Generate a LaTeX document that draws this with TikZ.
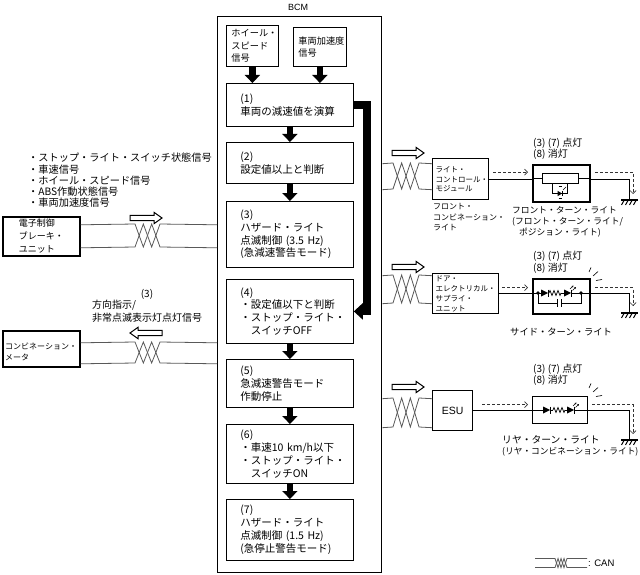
\documentclass[tikz,border=0pt]{standalone}
\usepackage{fontspec}
\setmainfont{Noto Sans CJK JP}
\newfontfamily\lat{Liberation Sans}
\usetikzlibrary{arrows.meta,calc}
\newcommand\fBox{\fontsize{10.5}{12.8}\selectfont}
\newcommand\fTop{\fontsize{9.2}{12.3}\selectfont}
\newcommand\fList{\fontsize{10.2}{11.3}\selectfont}
\newcommand\fEcu{\fontsize{9}{13}\selectfont}
\newcommand\fMeter{\fontsize{8}{11}\selectfont}
\newcommand\fMod{\fontsize{7.5}{9.8}\selectfont}
\newcommand\fLab{\fontsize{10}{11.5}\selectfont}
% twisted pair wire: start, twist start, dx, dy, end (wire changes side)
\newcommand\canwire[5]{\draw[wire] (#1) -- (#2) -- ++(#3,#4) -- ++(#3,{-(#4)}) -- ++(#3,#4) -- (#5);}
\newcommand\hollowR[2]{\draw[hollow] ({#1},{#2-2.7}) -- ++(24,0) -- ++(0,-3) -- ++(8,5.7) -- ++(-8,5.7) -- ++(0,-3) -- ++(-24,0) -- cycle;}
\newcommand\hollowL[2]{\draw[hollow] ({#1+32},{#2-2.7}) -- ++(-24,0) -- ++(0,-3) -- ++(-8,5.7) -- ++(8,5.7) -- ++(0,-3) -- ++(24,0) -- cycle;}
\newcommand\diode[2]{\fill ({#1},{#2-3.5}) -- ({#1+7},{#2}) -- ({#1},{#2+3.5}) -- cycle; \draw[line width=0.9pt] ({#1+7},{#2-3.5}) -- ({#1+7},{#2+3.5});}
\newcommand\resis[2]{\draw[line width=0.7pt] ({#1},{#2}) -- ++(1,-2.5) -- ++(2,5) -- ++(2,-5) -- ++(2,5) -- ++(2,-5) -- ++(2,5) -- ++(1,-2.5);}
\newcommand\led[2]{\diode{#1}{#2}\draw[line width=0.5pt,-{Stealth[length=2pt,width=2pt]}] ({#1+6},{#2-4}) -- ++(3.5,-3.5);\draw[line width=0.5pt,-{Stealth[length=2pt,width=2pt]}] ({#1+8.5},{#2-2.5}) -- ++(3.5,-3.5);}
\newcommand\gnd[1]{\draw[line width=1.3pt] ($(#1)+(-8,0)$) -- ($(#1)+(9,0)$);
  \foreach \k in {0,1,2,3} {\draw[line width=1pt] ($(#1)+({-5+4*\k},0.5)$) -- ($(#1)+({-7.5+4*\k},5)$);}}
\tikzset{
  bx/.style={draw, inner sep=0pt, anchor=north west},
  stepbox/.style={bx, line width=0.8pt, align=left, font=\fBox, inner xsep=14pt, text width=99pt, minimum width=127pt},
  lab/.style={anchor=west, align=left, inner sep=0pt},
  wire/.style={draw=black!65, line width=0.8pt},
  cable/.style={draw=black, line width=0.8pt},
  flow/.style={line width=6.5pt, -{Triangle[length=8pt,width=15pt]}},
  sig/.style={draw=black!80, line width=0.7pt, dash pattern=on 3pt off 2pt, -{Straight Barb[length=3pt,width=6pt]}},
  hollow/.style={draw, line width=1pt, fill=white},
  lamp/.style={bx, line width=1.8pt},
  module/.style={bx, line width=1.4pt, align=left, font=\fMod, inner xsep=3pt},
}
\begin{document}
\begin{tikzpicture}[x=1pt,y=-1pt]
\useasboundingbox (0,0) rectangle (640,575);
% BCM
\node[bx, line width=1.3pt, minimum width=164pt, minimum height=556pt] (bcm) at (217,16) {};
\node[font=\lat\fontsize{9}{10}\selectfont, inner sep=0pt] (bcmlbl) at (298,7.5) {BCM};
\node[bx, line width=0.8pt, minimum width=52pt, minimum height=41pt, align=left, font=\fTop, inner xsep=5pt, text width=42pt] (wheel) at (226,25) {ホイール・\\スピード\\信号};
\node[bx, line width=0.8pt, minimum width=53pt, minimum height=39pt, align=left, font=\fTop, inner xsep=5pt, text width=43pt] (accel) at (293,27) {車両加速度\\信号};
\node[stepbox, minimum height=43pt] (b1) at (226,83) {(1)\\車両の減速値を演算};
\node[stepbox, minimum height=41pt] (b2) at (226,142) {(2)\\設定値以上と判断};
\node[stepbox, minimum height=66pt] (b3) at (226,201) {(3)\\ハザード・ライト\\点滅制御 (3.5 Hz)\\(急減速警告モード)};
\node[stepbox, minimum height=64pt] (b4) at (226,279) {(4)\\・設定値以下と判断\\・ストップ・ライト・\\\hphantom{・}スイッチOFF};
\node[stepbox, minimum height=48pt] (b5) at (226,359) {(5)\\急減速警告モード\\作動停止};
\node[stepbox, minimum height=59pt] (b6) at (226,424) {(6)\\・車速10 km/h以下\\・ストップ・ライト・\\\hphantom{・}スイッチON};
\node[stepbox, minimum height=61pt] (b7) at (226,499) {(7)\\ハザード・ライト\\点滅制御 (1.5 Hz)\\(急停止警告モード)};
\draw[flow] (wheel.south) -- (wheel.south |- b1.north);
\draw[flow] (accel.south) -- (accel.south |- b1.north);
\draw[flow] (b1.south) -- (b2.north);
\draw[flow] (b2.south) -- (b3.north);
\draw[flow] (b4.south) -- (b5.north);
\draw[flow] (b5.south) -- (b6.north);
\draw[flow] (b6.south) -- (b7.north);
\draw[line width=8pt, line join=miter, -{Triangle[length=9pt,width=16pt]}] (b1.east) -- ++(13,0) |- (b4.east);
% left side
\node[bx, line width=1.6pt, minimum width=77pt, minimum height=39pt, align=left, font=\fEcu] (ecu) at (2,216) {電子制御\\ブレーキ・\\ユニット};
\node[bx, line width=1.6pt, minimum width=77pt, minimum height=36pt] (meter) at (2,330) {};
\node[lab, font=\fMeter] (metertxt) at (5,351.5) {コンビネーション・\\メータ};
\node[lab, font=\fList] (siglist) at (28,180.5) {・ストップ・ライト・スイッチ状態信号\\・車速信号\\・ホイール・スピード信号\\・ABS作動状態信号\\・車両加速度信号};
\node[font=\fLab, inner sep=0pt] (n3) at (147,294) {(3)};
\node[lab, font=\fontsize{10}{13}\selectfont] (turnsig) at (92,311.5) {方向指示/\\非常点滅表示灯点灯信号};
\coordinate (e1) at ($(ecu.east)+(0,-11.5)$);
\coordinate (e2) at ($(ecu.east)+(0,11.5)$);
\canwire{e1}{135,224}{8.333}{23}{e2 -| bcm.west}
\canwire{e2}{135,247}{8.333}{-23}{e1 -| bcm.west}
\coordinate (m1) at ($(meter.east)+(0,-6)$);
\coordinate (m2) at ($(meter.east)+(0,15)$);
\canwire{m1}{135,342}{8.333}{21}{m2 -| bcm.west}
\canwire{m2}{135,363}{8.333}{-21}{m1 -| bcm.west}
\hollowR{130}{218}
\hollowL{130}{333}
% right side modules
\node[module, minimum width=56pt, minimum height=41pt, text width=50pt] (lcm) at (432,158) {ライト・\\コントロール・\\モジュール};
\node[module, minimum width=66pt, minimum height=40pt, text width=60pt] (desu) at (432,273) {ドア・\\エレクトリカル・\\サプライ・\\ユニット};
\node[bx, line width=1.4pt, minimum width=40pt, minimum height=40pt, font=\lat\fontsize{10.5}{12}\selectfont] (esu) at (432,390) {ESU};
\coordinate (r1) at ($(lcm.west)+(0,-15.5)$);
\coordinate (r2) at ($(lcm.west)+(0,10.5)$);
\canwire{r1 -| bcm.east}{393,163}{8.667}{26}{r2}
\canwire{r2 -| bcm.east}{393,189}{8.667}{-26}{r1}
\coordinate (s1) at ($(desu.west)+(0,-18)$);
\coordinate (s2) at ($(desu.west)+(0,10)$);
\canwire{s1 -| bcm.east}{393,275}{8.667}{28}{s2}
\canwire{s2 -| bcm.east}{393,303}{8.667}{-28}{s1}
\coordinate (u1) at ($(esu.west)+(0,-12)$);
\coordinate (u2) at ($(esu.west)+(0,17)$);
\canwire{u1 -| bcm.east}{393,398}{8.667}{29}{u2}
\canwire{u2 -| bcm.east}{393,427}{8.667}{-29}{u1}
\hollowR{392}{153}
\hollowR{392}{267}
\hollowR{392}{387}
% lamps
\node[lamp, minimum width=57pt, minimum height=37pt] (lamp1) at (532,164) {};
\node[lamp, minimum width=57pt, minimum height=35pt] (lamp2) at (532,278) {};
\node[lamp, line width=1.4pt, minimum width=55pt, minimum height=27pt] (lamp3) at (532,396) {};
\draw[cable] (lcm.east) -- (lcm.east -| lamp1.west);
\draw[cable] (desu.east) -- (desu.east -| lamp2.west);
\draw[cable] (esu.east) -- (esu.east -| lamp3.west);
\coordinate (g1) at (629,200);
\coordinate (g2) at (629,313);
\coordinate (g3) at (629,440);
\draw[cable] (lcm.east -| lamp1.east) -| (g1);
\draw[cable] (desu.east -| lamp2.east) -| (g2);
\draw[cable] (esu.east -| lamp3.east) -| (g3);
\gnd{g1}
\gnd{g2}
\gnd{g3}
\coordinate (d1) at (633,194);
\coordinate (d2) at (633,306);
\coordinate (d3) at (633,434);
\draw[sig] ($(lcm.east)+(4,-7)$) -- ($(lcm.east -| lamp1.west)+(-4,-7)$);
\draw[sig] ($(desu.east)+(3,-6)$) -- ($(desu.east -| lamp2.west)+(-4,-6)$);
\draw[sig] ($(esu.east)+(9,-6)$) -- ($(esu.east -| lamp3.west)+(-4,-6)$);
\draw[sig] ($(lcm.east -| lamp1.east)+(4,-7)$) -| (d1);
\draw[sig] ($(desu.east -| lamp2.east)+(4,-6)$) -| (d2);
\draw[sig] ($(esu.east -| lamp3.east)+(4,-6)$) -| (d3);
% lamp 1 internals
\draw[cable] (532,178.5) -- (542,178.5);
\draw[cable] (578,178.5) -- (589,178.5);
\draw[line width=0.8pt] (542,173.5) rectangle (578,183.5);
\draw[line width=0.7pt] (552,183.5) -- (552,193.5) -- (567,193.5) -- (567,183.5);
\fill (557.5,190.8) -- (562,193.5) -- (557.5,196.2) -- cycle;
\draw[line width=0.7pt] (562,190.8) -- (562,196.2);
\draw[line width=0.4pt] (563,190) -- (566,187);
\draw[line width=0.4pt] (558.5,186) -- (561.5,186);
\draw[line width=0.4pt] (558.5,198.5) -- (561.5,198.5);
% lamp 2 internals
\draw[cable] (532,293) -- (541,293);
\diode{541}{293}
\draw[cable] (548,293) -- (549,293);
\resis{549}{293}
\draw[cable] (561,293) -- (564,293);
\led{564}{293}
\draw[cable] (571,293) -- (589,293);
\fill (538,293) circle (1.8);
\fill (581,293) circle (1.8);
\draw[cable] (538,293) -- (538,303) -- (557,303);
\draw[cable] (561,303) -- (581,303) -- (581,293);
\draw[line width=0.9pt] (557,299) -- (557,307);
\draw[line width=0.9pt] (561,299) -- (561,307);
\draw[line width=0.6pt] (589,272) -- (591,267.5);
\draw[line width=0.6pt] (593,276) -- (598,271.5);
\draw[line width=0.6pt] (596,280.5) -- (602,279.5);
% lamp 3 internals
\draw[cable] (532,410) -- (543,410);
\diode{543}{410}
\draw[cable] (550,410) -- (553,410);
\resis{553}{410}
\draw[cable] (565,410) -- (567,410);
\led{567}{410}
\draw[cable] (574,410) -- (587,410);
\draw[line width=0.6pt] (589,388) -- (591,383.5);
\draw[line width=0.6pt] (593,392) -- (598,387.5);
\draw[line width=0.6pt] (596,396.5) -- (602,395.5);
% right labels
\node[lab, font=\fLab] (st1) at (533,149) {(3) (7) 点灯\\(8) 消灯};
\node[lab, font=\fLab] (st2) at (533,262.5) {(3) (7) 点灯\\(8) 消灯};
\node[lab, font=\fLab] (st3) at (533,375) {(3) (7) 点灯\\(8) 消灯};
\node[lab, font=\fontsize{8}{10.5}\selectfont] (lcmlbl) at (433,217.5) {フロント・\\コンビネーション・\\ライト};
\node[lab, font=\fontsize{8.75}{11}\selectfont] (l1lbl) at (512,222) {フロント・ターン・ライト\\(フロント・ターン・ライト/\\\hspace*{7pt}ポジション・ライト)};
\node[lab, font=\fontsize{9.3}{11}\selectfont] (l2lbl) at (510,332) {サイド・ターン・ライト};
\node[lab, font=\fontsize{9.8}{11}\selectfont] (l3lbl) at (502,440) {リヤ・ターン・ライト};
\node[lab, font=\fontsize{8.7}{10}\selectfont] (l3lblb) at (502,452) {(リヤ・コンビネーション・ライト)};
% legend
\draw[wire] (535,558.5) -- (555,558.5) -- ++(3,9) -- ++(3,-9) -- ++(3,9) -- ++(3,-9) -- (587,558.5);
\draw[wire] (535,567.5) -- (555,567.5) -- ++(3,-9) -- ++(3,9) -- ++(3,-9) -- ++(3,9) -- (587,567.5);
\node[lab, font=\lat\fontsize{9.5}{11}\selectfont] (canlbl) at (588,563) {: CAN};
\end{tikzpicture}
\end{document}
